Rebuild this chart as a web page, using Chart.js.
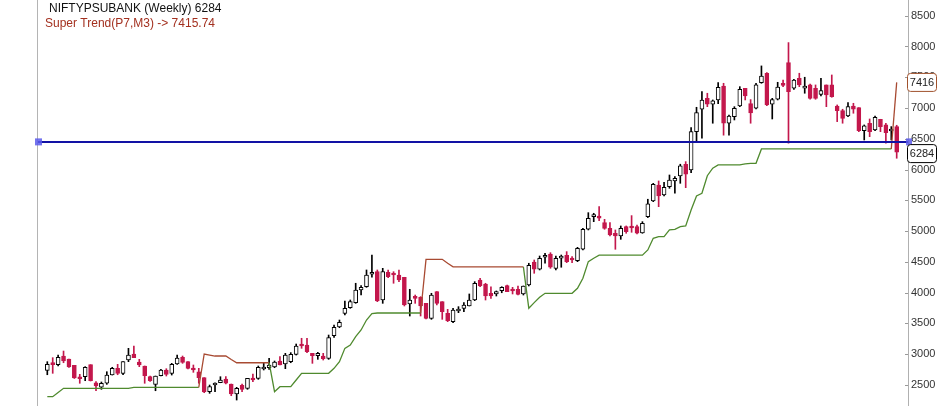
<!DOCTYPE html>
<html><head><meta charset="utf-8">
<script src="https://cdn.jsdelivr.net/npm/chart.js@4.4.1/dist/chart.umd.min.js"></script>
<style>html,body{margin:0;padding:0;background:#fff;overflow:hidden}#wrap{width:942px;height:406px;position:relative}</style>
</head><body><div id="wrap"><canvas id="c" width="942" height="406"></canvas></div>
<script>
const titleText = 'NIFTYPSUBANK (Weekly)';
const indicatorText = 'Super Trend(P7,M3)';
const indicatorValue = 7415.74;
const horizontalLevel = 6450;

const openP = [2739,2850,2830,2971,2922,2820,2625,2635,2830,2537,2463,2528,2662,2771,2690,2906,3003,2873,2809,2635,
2511,2651,2744,2690,2841,2950,2879,2771,2716,2619,2391,2500,2537,2597,2516,2354,2495,2446,2597,2608,
2760,2781,2792,2890,2841,2879,2998,3150,3150,3015,2976,2971,2933,3301,3442,3665,3756,3838,4044,4097,
4299,4341,3881,4331,4315,4287,4250,3816,3925,3925,3827,3583,4016,3854,3665,3529,3703,3746,3784,3881,
4206,4141,3990,3979,4033,4115,4055,4055,3979,4125,4499,4380,4575,4629,4396,4559,4607,4559,4520,4705,
5030,5235,5246,5138,5046,4965,4921,5073,5073,5073,4970,5235,5490,5750,5587,5723,5815,5896,6087,5994,
6616,6980,7158,7061,7131,7358,6753,6860,7033,7320,7071,6996,7412,7564,7061,7142,7402,7737,7321,7483,
7321,7375,7321,7223,7375,7375,7033,6957,6871,7033,7006,6632,6752,6644,6817,6725,6627,6698];
const highP = [2879,2944,2987,3052,2922,2820,2674,2798,2830,2554,2549,2716,2788,2836,2879,3096,3134,2917,2809,2646,
2646,2755,2765,2852,2987,2971,2879,2825,2771,2619,2500,2537,2635,2635,2516,2462,2516,2608,2679,2809,
2852,2933,2890,2960,3015,3026,3166,3259,3259,3015,3031,3015,3312,3475,3556,3865,3881,4153,4115,4369,
4612,4369,4396,4369,4341,4369,4250,4055,3962,3935,3827,3990,4016,3854,3730,3746,3773,3838,3979,4179,
4234,4153,4097,4028,4097,4125,4087,4109,4109,4478,4531,4596,4640,4650,4596,4612,4667,4585,4737,5046,
5300,5290,5397,5192,5138,5019,5084,5084,5252,5100,5154,5518,5777,5815,5794,5912,5885,6087,6129,6682,
7012,7266,7240,7131,7412,7402,6887,7022,7347,7320,7137,7402,7684,7575,7158,7418,7456,8063,7467,7565,
7500,7391,7375,7483,7375,7537,7050,6980,7088,7077,7006,6725,6822,6871,6817,6752,6698,6720];
const lowP = [2667,2690,2809,2862,2787,2606,2528,2570,2565,2407,2430,2511,2662,2667,2667,2879,2944,2798,2528,2560,
2407,2646,2646,2662,2836,2852,2760,2706,2528,2375,2365,2391,2537,2516,2326,2256,2391,2430,2554,2592,
2744,2755,2781,2825,2765,2862,2987,3096,3026,2852,2917,2906,2917,3275,3431,3637,3746,3827,3962,4087,
4250,3854,3827,4244,4153,4179,3784,3621,3827,3621,3572,3567,3800,3567,3529,3512,3675,3691,3784,3870,
4097,3881,3908,3946,3999,4016,3979,3962,3962,4109,4315,4369,4478,4396,4369,4413,4488,4488,4504,4694,
5019,5154,5170,5030,4921,4705,4867,4965,4981,4954,4965,5220,5479,5397,5571,5696,5615,5777,5706,5950,
6454,6510,7022,6753,7071,6559,6559,6806,7022,7131,6753,6985,7402,7039,6822,7131,7347,6429,7304,7347,
7240,7142,7142,7196,7022,7175,6779,6753,6860,6915,6616,6481,6535,6632,6616,6427,6481,6184];
const closeP = [2836,2830,2950,2890,2792,2614,2602,2788,2570,2484,2528,2662,2771,2690,2879,2987,2944,2825,2651,2570,
2646,2744,2674,2836,2939,2868,2771,2744,2619,2386,2473,2516,2581,2528,2354,2446,2430,2608,2581,2788,
2777,2825,2874,2825,2987,2998,3134,3134,3042,2976,3015,2927,3269,3437,3518,3746,3854,4044,4087,4287,
4331,3865,4341,4260,4287,4206,3800,3881,3908,3784,3583,3962,3827,3691,3545,3719,3735,3800,3881,4153,
4110,3946,3946,4016,4087,4016,4028,3973,4109,4445,4380,4559,4596,4413,4559,4596,4504,4531,4721,5030,
5209,5262,5209,5046,4937,4921,5046,4992,5051,4965,5127,5442,5761,5571,5713,5831,5858,6059,5924,6616,
6925,7131,7061,7115,7337,6753,6871,6996,7304,7196,6919,7375,7521,7050,7137,7342,7369,7266,7456,7375,
7358,7158,7158,7283,7212,7185,6957,6833,7022,6980,6632,6709,6616,6850,6698,6600,6654,6284];
const superTrend = [2310,2310,2380,
2446,2446,2446,2446,2446,2446,2446,2446,2446,2446,2446,2446,2446,
2462,2462,2462,2462,2462,2462,2462,2462,2462,2462,2462,2462,2462,
3004,2987,2971,2971,2971,2915,
2862,2862,2862,2862,2862,2862,2862,
2391,2473,2473,2473,2581,
2690,2690,2690,2690,2690,2690,
2771,2879,3096,3150,3285,3394,3556,3660,
3670,3670,3670,3670,3670,3670,3670,3670,3670,
4542,4542,4542,4542,4477,
4420,4420,4420,4420,4420,4420,4420,4420,4420,4420,4420,4420,4420,4420,
3746,3838,3925,
3990,3990,3990,3990,3990,3990,
4071,4234,4504,4560,
4610,4610,4610,4610,4610,4610,4610,4610,4610,
4694,4884,4910,4910,5019,5030,5073,5084,5344,5571,5615,5900,6022,
6075,6075,6075,6075,6075,
6091,6102,6102,
6335,6335,6335,6335,6335,6335,6335,6335,6335,6335,6335,6335,6335,6335,6335,6335,6335,6335,6335,6335,6335,6335,6335,6335,6335,
7416];
const yTicks = [2500,3000,3500,4000,4500,5000,5500,6000,6500,7000,7500,8000,8500];

const RED = '#c3174c', ST_RED = '#a84a32', ST_GREEN = '#4f8a2e';
const weeks = closeP.map((_, i) => i);
const bull = weeks.map(i => closeP[i] >= openP[i]);
const wickData = weeks.map(i => ({x: i, y: [lowP[i], highP[i]]}));
const bodyData = weeks.map(i => ({x: i, y: [openP[i], closeP[i]]}));
const stData = weeks.map(i => ({x: i, y: superTrend[i]}));
const stDown = weeks.map(i => superTrend[i] > closeP[i]);

const overlay = {
  id: 'overlay',
  afterDraw(chart) {
    const c = chart.ctx, ys = chart.scales.y, a = chart.chartArea;
    c.save();
    // left border
    c.strokeStyle = '#b4b4b4'; c.lineWidth = 1;
    c.beginPath(); c.moveTo(a.left - 0.5, 0); c.lineTo(a.left - 0.5, 406); c.stroke();
    // inner tick marks
    c.strokeStyle = '#999';
    yTicks.forEach(v => { const y = Math.round(ys.getPixelForValue(v)) + 0.5; c.beginPath(); c.moveTo(a.right - 3, y); c.lineTo(a.right, y); c.stroke(); });
    // drawn horizontal line
    const yl = ys.getPixelForValue(horizontalLevel);
    c.strokeStyle = '#1212a4'; c.lineWidth = 2;
    c.beginPath(); c.moveTo(a.left, yl); c.lineTo(a.right, yl); c.stroke();
    c.fillStyle = 'rgba(90,90,235,0.85)';
    c.fillRect(a.left - 3, yl - 3.5, 7, 7);
    c.fillRect(a.right - 2, yl - 3.5, 6, 7);
    // boxes
    function box(yc, txt, col) {
      c.beginPath();
      c.roundRect(a.right - 0.5, yc - 9, 29, 18, 3);
      c.fillStyle = '#fff'; c.fill();
      c.lineWidth = 1; c.strokeStyle = col; c.stroke();
      c.fillStyle = '#222'; c.font = '11px "Liberation Sans", Arial, sans-serif';
      c.textAlign = 'center'; c.textBaseline = 'middle';
      c.fillText(txt, a.right + 14, yc + 0.5);
    }
    const last = closeP[closeP.length - 1];
    const stLast = superTrend[superTrend.length - 1];
    box(ys.getPixelForValue(stLast), String(Math.round(indicatorValue)), '#a0522d');
    box(ys.getPixelForValue(last) + 1.5, String(last), '#000');
    // legend
    c.textAlign = 'left'; c.textBaseline = 'alphabetic';
    c.font = '12px "Liberation Sans", Arial, sans-serif';
    c.fillStyle = '#111';
    c.fillText(titleText + ' ' + last, 49, 12);
    c.fillStyle = '#a3301f';
    c.fillText(indicatorText + ' -> ' + indicatorValue.toFixed(2), 45, 26.5);
    c.restore();
  }
};

new Chart(document.getElementById('c'), {
  type: 'bar',
  data: { datasets: [
    { type: 'line', data: stData, order: 0, borderWidth: 1.3, pointRadius: 0, tension: 0,
      borderColor: ST_GREEN,
      segment: { borderColor: ctx => stDown[ctx.p1DataIndex] ? ST_RED : ST_GREEN } },
    { data: bodyData, order: 1, grouped: false, barThickness: 4, minBarLength: 2,
      backgroundColor: bull.map(b => b ? '#ffffff' : RED),
      borderColor: bull.map(b => b ? '#000000' : RED),
      borderWidth: 1, borderSkipped: false },
    { data: wickData, order: 2, grouped: false, barThickness: 1,
      backgroundColor: bull.map(b => b ? '#000000' : RED), borderWidth: 0 }
  ]},
  options: {
    responsive: false, animation: false, devicePixelRatio: 1,
    layout: { padding: { left: 38, right: 0, top: 0, bottom: 0 } },
    plugins: { legend: { display: false }, tooltip: { enabled: false } },
    scales: {
      x: { type: 'linear', min: -1.72, max: 159.09, offset: false, display: false },
      y: { position: 'right', min: 2159, max: 8755,
        afterBuildTicks: s => { s.ticks = yTicks.map(v => ({ value: v })); },
        afterFit: s => { s.width = 34; s.paddingTop = 0; s.paddingBottom = 0; },
        grid: { display: false, drawTicks: false },
        border: { display: true, color: '#b0b0b0', width: 1 },
        ticks: { padding: 3, autoSkip: false, color: '#333',
          callback: v => String(v),
          font: { family: '"Liberation Sans", Arial, sans-serif', size: 11 } } }
    }
  },
  plugins: [overlay]
});
</script>
</body></html>
